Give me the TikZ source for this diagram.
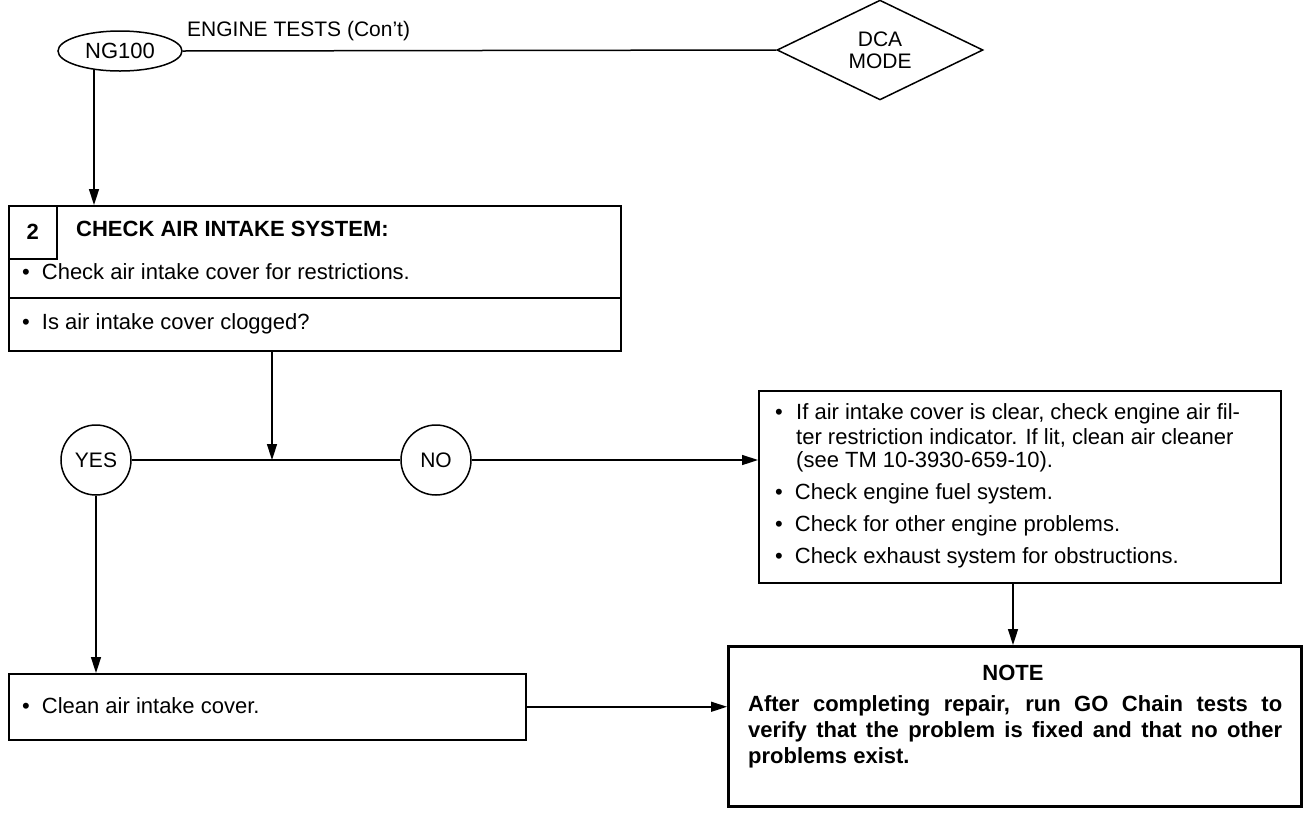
\documentclass[tikz,border=0pt]{standalone}
\usepackage{fontspec}
\setmainfont{Liberation Sans}
\usetikzlibrary{shapes.geometric,arrows.meta,calc}
\tikzset{
  base/.style={line width=1.5pt},
  arr/.style={base,-{Triangle[length=16pt,width=10pt]}},
  boxnode/.style={draw,base,rectangle,inner sep=0pt},
  txt/.style={inner sep=0pt,anchor=west,font=\fontsize{22}{25}\selectfont},
  notetxt/.style={inner sep=0pt,anchor=west,font=\fontsize{22}{25}\selectfont\bfseries},
  circ/.style={draw,base,circle,minimum size=70pt,inner sep=0pt,font=\fontsize{21}{24}\selectfont},
}
\newcommand{\bul}{\textbullet}
\begin{document}
\begin{tikzpicture}[x=1pt,y=-1pt]
\useasboundingbox (0,0) rectangle (1309,820);
% top row
\node[draw,base,ellipse,minimum width=124pt,minimum height=40pt,inner sep=0pt,font=\fontsize{22}{25}\selectfont] (ng) at (120,51) {NG100};
\node[draw,base,diamond,minimum width=206pt,minimum height=80pt,inner sep=0pt,align=center,font=\fontsize{21}{22}\selectfont] (dca) at (880,50) {DCA\\MODE};
\node[txt,font=\fontsize{21}{24}\selectfont] (title) at (187,31) {ENGINE TESTS (Con't)};
\draw[base] (ng.east) -- (dca.west);
% box 2
\node[boxnode,minimum width=612pt,minimum height=145pt,anchor=north west] (box2) at (8,205) {};
\node[boxnode,minimum width=48pt,minimum height=53pt,anchor=north west,font=\fontsize{22}{25}\selectfont\bfseries] (num) at (box2.north west) {2};
\node[txt,font=\fontsize{22}{25}\selectfont\bfseries] (head) at (76,229) {CHECK AIR INTAKE SYSTEM:};
\draw[base] ([yshift=-93pt]box2.north west) -- ([yshift=-93pt]box2.north east);
\node[txt] (r1) at (22,272) {\bul\hspace{12pt}Check air intake cover for restrictions.};
\node[txt] (r2) at (22,324) {\bul\hspace{12pt}Is air intake cover clogged?};
\draw[arr] (ng.216) -- (ng.216 |- box2.north);
% decision
\coordinate (jn) at (272,460);
\node[circ] (yes) at (96,460) {YES};
\node[circ] (no) at (436,460) {NO};
\draw[arr] (box2.south -| jn) -- (jn);
\draw[base] (yes) -- (no);
% right box
\node[boxnode,minimum width=522pt,minimum height=192pt,anchor=north west] (rbox) at (758,390) {};
\draw[arr] (no) -- (rbox.west |- no);
\node[txt] (b1) at (775,414) {\bul};
\node[txt] (t1a) at (796,414) {If air intake cover is clear, check engine air fil-};
\node[txt] (t1b) at (796,438) {ter restriction indicator. If lit, clean air cleaner};
\node[txt] (t1c) at (796,462) {(see TM 10-3930-659-10).};
\node[txt] (b2) at (775,494) {\bul\hspace{12pt}Check engine fuel system.};
\node[txt] (b3) at (775,526) {\bul\hspace{12pt}Check for other engine problems.};
\node[txt] (b4) at (775,558) {\bul\hspace{12pt}Check exhaust system for obstructions.};
% note
\node[draw,line width=3.2pt,rectangle,inner sep=0pt,minimum width=573pt,minimum height=160pt,anchor=north west] (note) at (727,645) {};
\node[inner sep=0pt,font=\fontsize{22}{25}\selectfont\bfseries] (nt) at (1013,673) {NOTE};
\node[notetxt] (n1) at (748,706) {\makebox[534pt][s]{After completing repair, run GO Chain tests to}};
\node[notetxt] (n2) at (748,732) {\makebox[534pt][s]{verify that the problem is fixed and that no other}};
\node[notetxt] (n3) at (748,758) {problems exist.};
% clean box
\node[boxnode,minimum width=517pt,minimum height=66pt,anchor=north west] (cbox) at (8,673) {};
\node[txt] (c1) at (22,706) {\bul\hspace{12pt}Clean air intake cover.};
\draw[arr] (yes) -- (yes |- cbox.north);
\draw[arr] (cbox.east) -- (note.west |- cbox.east);
\draw[arr] (rbox.south -| nt) -- (note.north -| nt);
\end{tikzpicture}
\end{document}
